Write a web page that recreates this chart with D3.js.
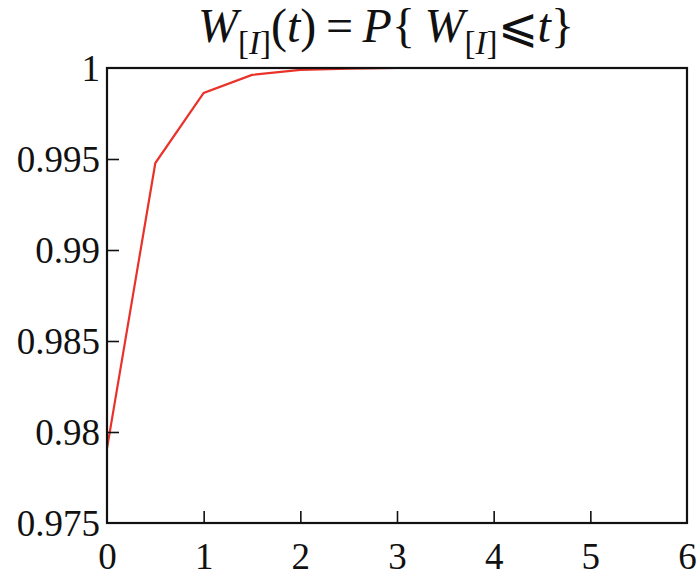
<!DOCTYPE html>
<html><head><meta charset="utf-8">
<script src="https://cdn.jsdelivr.net/npm/d3@7"></script>
<style>body{margin:0;background:#fff}</style>
</head><body>
<svg id="c" width="700" height="581"></svg>
<script>
const xs = [0, 0.5, 1, 1.5, 2, 2.5, 3, 3.5, 4, 4.5, 5, 5.5, 6];
const ys = [0.9791, 0.99478, 0.99863, 0.99962, 0.9999, 0.99997, 1, 1, 1, 1, 1, 1, 1];
const xTicks = [0, 1, 2, 3, 4, 5, 6];
const yTicks = [0.975, 0.98, 0.985, 0.99, 0.995, 1];
const yTickLabels = ["0.975", "0.98", "0.985", "0.99", "0.995", "1"];

const svg = d3.select("#c");
const L = 107, R = 687, T = 68, B = 523;
const x = d3.scaleLinear().domain([0, 6]).range([L, R]);
const y = d3.scaleLinear().domain([0.975, 1]).range([B, T]);
const font = "'Liberation Serif', 'DejaVu Serif', serif";

// line
svg.append("path")
  .datum(xs.map((d, i) => [d, ys[i]]))
  .attr("d", d3.line().x(d => x(d[0])).y(d => y(d[1])))
  .attr("fill", "none").attr("stroke", "#e8322a").attr("stroke-width", 2.2);

// frame
svg.append("rect").attr("x", L).attr("y", T).attr("width", R - L).attr("height", B - T)
  .attr("fill", "none").attr("stroke", "#111").attr("stroke-width", 2.2);

// x axis
const xa = svg.append("g").attr("transform", `translate(0,${B})`)
  .call(d3.axisBottom(x).tickValues(xTicks).tickSizeInner(-12).tickSizeOuter(0).tickPadding(20).tickFormat(d3.format("d")));
xa.select(".domain").remove();
xa.selectAll("line").attr("stroke", "#111").attr("stroke-width", 1.6);
xa.selectAll("text").attr("font-family", font).attr("font-size", 37).attr("fill", "#111").attr("dy", "0.7em");
xa.selectAll(".tick").filter(d => d === 0 || d === 6).select("line").remove();

// y axis
const ya = svg.append("g").attr("transform", `translate(${L},0)`)
  .call(d3.axisLeft(y).tickValues(yTicks).tickSizeInner(-12).tickSizeOuter(0).tickPadding(7)
    .tickFormat((d, i) => yTickLabels[i]));
ya.select(".domain").remove();
ya.selectAll("line").attr("stroke", "#111").attr("stroke-width", 1.6);
ya.selectAll("text").attr("font-family", font).attr("font-size", 37).attr("fill", "#111").attr("dy", "0.35em");
ya.selectAll(".tick").filter(d => d === 0.975 || d === 1).select("line").remove();

// title
const t = svg.append("text").attr("x", 386).attr("y", 42).attr("text-anchor", "middle")
  .attr("font-family", font).attr("font-size", 48).attr("fill", "#111");
t.append("tspan").attr("font-style", "italic").text("W");
t.append("tspan").attr("font-size", 33).attr("dy", 12).text("[");
t.append("tspan").attr("font-size", 33).attr("font-style", "italic").text("I");
t.append("tspan").attr("font-size", 33).text("]");
t.append("tspan").attr("dy", -12).text("(");
t.append("tspan").attr("font-style", "italic").text("t");
t.append("tspan").text(")\u2009=\u2009");
t.append("tspan").attr("font-style", "italic").text("P");
t.append("tspan").text("{\u2009");
t.append("tspan").attr("font-style", "italic").text("W");
t.append("tspan").attr("font-size", 33).attr("dy", 12).text("[");
t.append("tspan").attr("font-size", 33).attr("font-style", "italic").text("I");
t.append("tspan").attr("font-size", 33).text("]");
t.append("tspan").attr("dy", -12).text("\u2A7D");
t.append("tspan").attr("font-style", "italic").text("t");
t.append("tspan").text("}");
</script>
</body></html>
